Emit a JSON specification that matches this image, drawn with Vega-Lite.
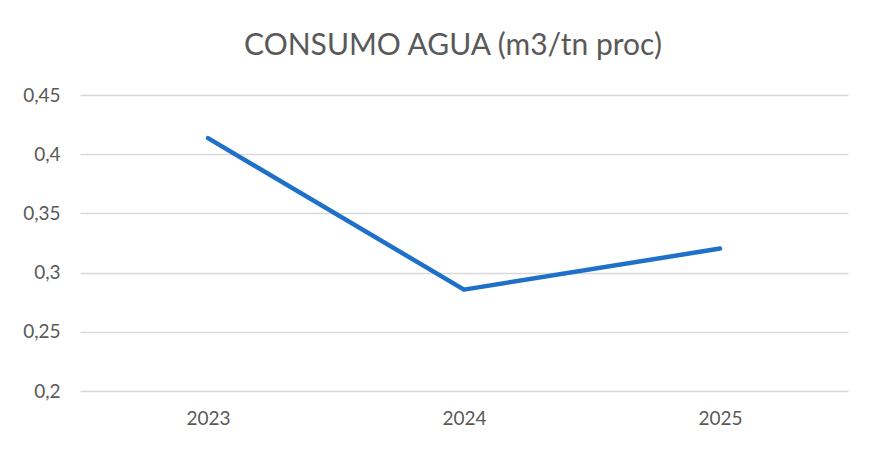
{
  "$schema": "https://vega.github.io/schema/vega-lite/v6.json",
  "width": 768,
  "height": 296,
  "autosize": {"type": "none"},
  "padding": {"left": 80, "top": 95, "right": 33, "bottom": 64},
  "background": "white",
  "title": {
    "text": "CONSUMO AGUA (m3/tn proc)",
    "font": "Lato",
    "fontSize": 30,
    "fontWeight": "normal",
    "color": "#595959",
    "anchor": "middle",
    "dx": -11,
    "offset": 25
  },
  "config": {
    "locale": {"number": {"decimal": ",", "thousands": ".", "grouping": [3], "currency": ["", " €"]}},
    "view": {"stroke": null},
    "axis": {"labelFont": "Lato", "labelFontSize": 19, "labelColor": "#595959", "titleFont": "Lato"}
  },
  "data": {
    "values": [
      {"year": "2023", "consumo": 0.4136},
      {"year": "2024", "consumo": 0.2856},
      {"year": "2025", "consumo": 0.3203}
    ]
  },
  "mark": {"type": "line", "color": "#1f70c8", "strokeWidth": 4.5, "strokeCap": "round", "strokeJoin": "round"},
  "encoding": {
    "x": {
      "field": "year",
      "type": "ordinal",
      "title": null,
      "scale": {"paddingInner": 0, "paddingOuter": 0.5},
      "axis": {"labelAngle": 0, "domain": false, "ticks": false, "labelPadding": 18}
    },
    "y": {
      "field": "consumo",
      "type": "quantitative",
      "title": null,
      "scale": {"domain": [0.2, 0.45], "nice": false, "zero": false},
      "axis": {
        "values": [0.2, 0.25, 0.3, 0.35, 0.4, 0.45],
        "format": "~g",
        "domain": false,
        "ticks": false,
        "labelPadding": 20,
        "gridColor": "#d9d9d9",
        "gridWidth": 1.3
      }
    }
  }
}
